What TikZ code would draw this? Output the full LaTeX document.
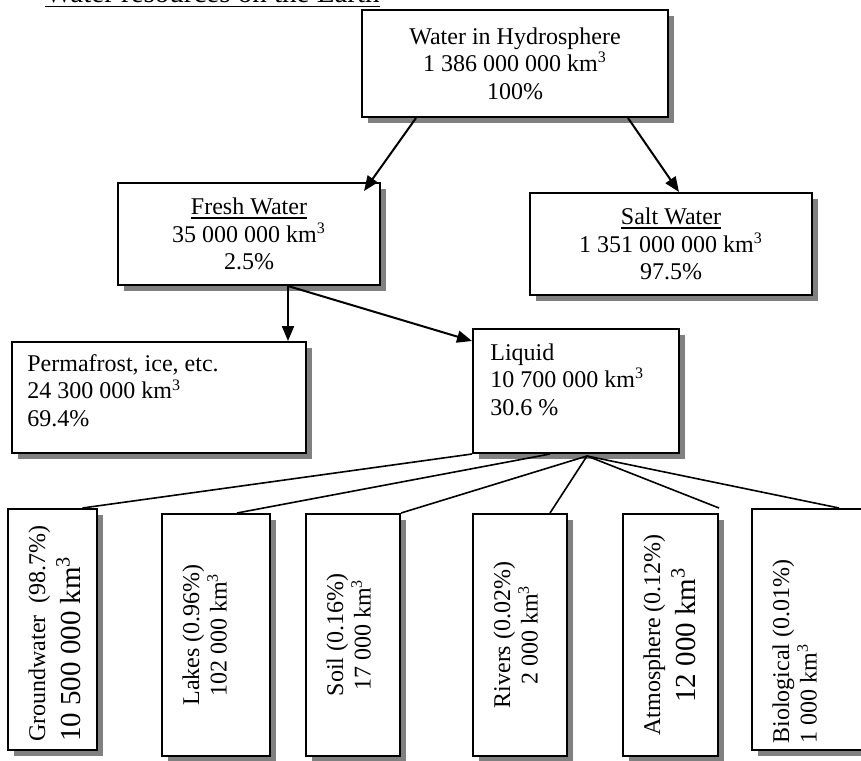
\documentclass[tikz,border=0pt]{standalone}
\usepackage{fontspec}
\setmainfont{Liberation Serif}
\usepackage{graphicx}
\usetikzlibrary{arrows.meta,shadows}

\newcommand{\ulined}[1]{\leavevmode\vtop{\hbox{#1}\kern1.1pt\hrule height 0.7pt}}
\newcommand{\kmc}{km\textsuperscript{3}}

\begin{document}
\begin{tikzpicture}[
x=0.5pt, y=-0.5pt,
font=\fontsize{12}{13.8}\selectfont,
box/.style={draw, line width=1pt, fill=white, inner sep=0pt, align=center,
  drop shadow={shadow xshift=3pt, shadow yshift=-3pt, fill=gray, opacity=1}},
vbox/.style={box, minimum width=47pt, minimum height=121pt},
htext/.style={inner sep=0pt, align=left, anchor=north west},
vtext/.style={inner sep=0pt, align=center, rotate=90, anchor=north},
big/.style={font=\fontsize{14.5}{17}\selectfont},
arr/.style={-{Triangle[length=7.5pt, width=6pt]}, line width=1pt},
link/.style={line width=0.8pt}
]
\useasboundingbox (0,0) rectangle (861,760);
\clip (0,0) rectangle (861,760);

% title
\node[inner sep=0pt, anchor=base west, big] (title) at (45,3) {\ulined{Water resources on the Earth}};

% upper levels
\node[box, minimum width=153pt, minimum height=53.5pt] (hydro) at (515,63.5) {Water in Hydrosphere\\1 386 000 000 \kmc\\100\%};
\node[box, minimum width=131pt, minimum height=51pt] (fresh) at (249,234) {\ulined{Fresh Water}\\35 000 000 \kmc\\2.5\%};
\node[box, minimum width=141pt, minimum height=51pt] (salt) at (671,244) {\ulined{Salt Water}\\1 351 000 000 \kmc\\97.5\%};
\node[box, minimum width=147pt, minimum height=55.5pt] (perma) at (159,397.5) {};
\node[htext] (permatext) at ([xshift=8pt, yshift=-6.5pt]perma.north west) {Permafrost, ice, etc.\\24 300 000 \kmc\\69.4\%};
\node[box, minimum width=103pt, minimum height=62pt] (liquid) at (576,391) {};
\node[htext] (liquidtext) at ([xshift=9pt, yshift=-7.5pt]liquid.north west) {Liquid\\10 700 000 \kmc\\30.6 \%};

% liquid water stores
\node[vbox, minimum width=44.5pt, minimum height=120.5pt] (ground) at (52.5,629.5) {};
\node[vbox, minimum width=54pt] (lakes) at (216,635) {};
\node[vbox] (soil) at (353,635) {};
\node[vbox] (rivers) at (520,635) {};
\node[vbox, minimum width=47.5pt] (atmos) at (670.5,635) {};
\node[vbox, minimum width=60pt, minimum height=120.5pt] (bio) at (812,629.5) {};

\node[vtext, align=left] (groundtext) at ([xshift=10.5pt, yshift=-2pt]ground.west) {Groundwater\ \ (98.7\%)\\[2pt]{\fontsize{14.5}{17}\selectfont 10 500 000 \kmc}};
\node[vtext] (lakestext) at ([xshift=10.5pt]lakes.west) {Lakes (0.96\%)\\102 000 \kmc};
\node[vtext] (soiltext) at ([xshift=10.5pt]soil.west) {Soil (0.16\%)\\17 000 \kmc};
\node[vtext] (riverstext) at ([xshift=10.5pt]rivers.west) {Rivers (0.02\%)\\2 000 \kmc};
\node[vtext] (atmostext) at ([xshift=10.5pt]atmos.west) {Atmosphere (0.12\%)\\[2pt]{\fontsize{14.5}{17}\selectfont 12 000 \kmc}};
\node[vtext, align=left, anchor=north west] (biotext) at ([xshift=10.5pt, yshift=3.5pt]bio.south west) {Biological (0.01\%)\\1 000 \kmc};

% arrows
\draw[arr] ([xshift=27.5pt]hydro.south west) -- ([xshift=-8.5pt, yshift=-4.5pt]fresh.north east);
\draw[arr] ([xshift=-20.5pt]hydro.south east) -- ([xshift=4pt]salt.north);
\coordinate (fork) at ([xshift=19.5pt]fresh.south);
\draw[arr] (fork) -- (fork |- perma.north);
\draw[arr] (fork) -- ([yshift=-6.5pt]liquid.north west);

% plain links
\coordinate (hub) at ([xshift=5.5pt, yshift=-1pt]liquid.south);
\draw[link] (liquid.south west) -- ([xshift=15pt]ground.north);
\draw[link] ([xshift=-13pt]liquid.south) -- ([xshift=10.5pt]lakes.north);
\draw[link] (hub) -- (soil.north east);
\draw[link] (hub) -- ([xshift=15pt]rivers.north);
\draw[link] (hub) -- ([yshift=2.5pt]atmos.north east);
\draw[link] (hub) -- ([xshift=44pt]bio.north west);
\end{tikzpicture}
\end{document}
